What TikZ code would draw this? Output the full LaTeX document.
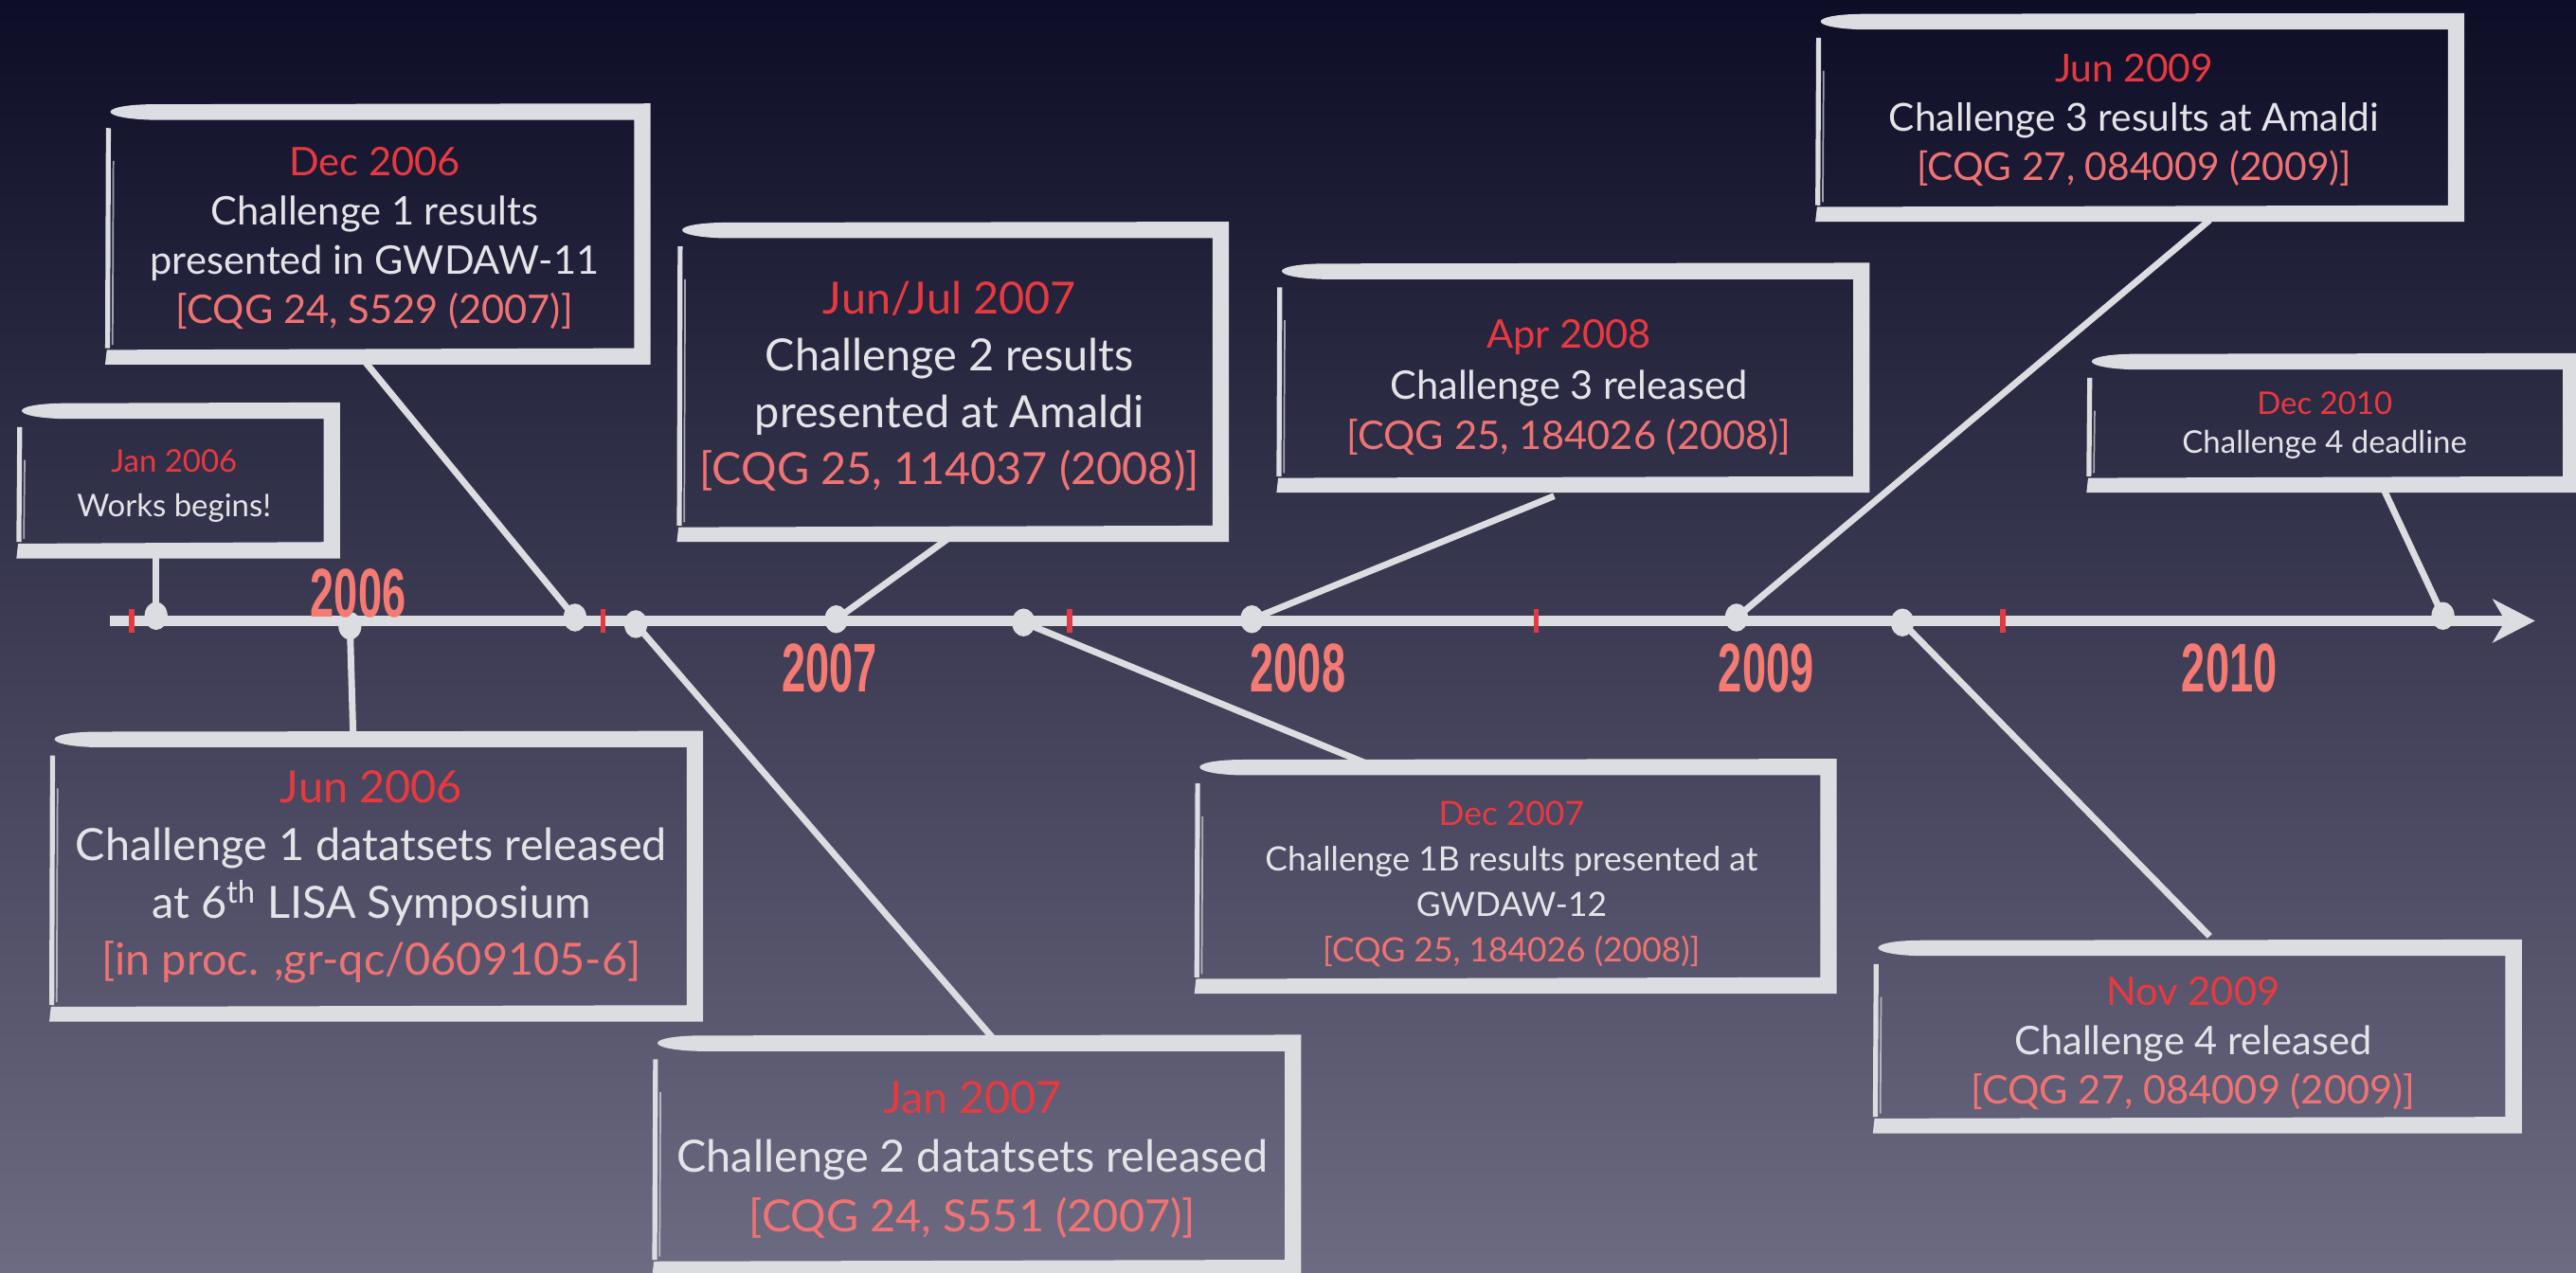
\documentclass[tikz,border=0pt]{standalone}
\usepackage{fontspec}
\setmainfont{Lato}
\newfontfamily\yearfont{Liberation Sans}
\usetikzlibrary{shapes.geometric}
\definecolor{bgtop}{HTML}{0D0D27}
\definecolor{bgmid}{HTML}{31315A}
\definecolor{bgbot}{HTML}{6D6B82}
\definecolor{linecol}{HTML}{DCDDE0}
\definecolor{datecol}{HTML}{E8393F}
\definecolor{bodycol}{HTML}{E4E4E8}
\definecolor{citecol}{HTML}{F07272}
\definecolor{yearcol}{HTML}{F47A72}
\definecolor{tickcol}{HTML}{E23A45}
\newcommand\datel[1]{\textcolor{datecol}{#1}}
\newcommand\citel[1]{\textcolor{citecol}{#1}}
\def\bt{10}
% x1 y1 x2 y2 (y grows downward)
\newcommand\sketchframe[4]{%
  \fill[linecol] (#3,#2) -- (#1+30,#2+0.5)
     .. controls (#1-3,#2+1) and (#1-3,#2+\bt-1) .. (#1+30,#2+\bt)
     -- (#3-\bt,#2+\bt) -- (#3-\bt,#4-\bt) -- (#1+3,#4-\bt+1)
     -- (#1+2,#4) -- (#3,#4) -- cycle;
  \draw[linecol,line width=3] (#1+4,#2+\bt+5) -- (#1+3.5,#4-\bt);
  \draw[linecol,line width=1,opacity=0.7] (#1+7,#2+\bt+25) -- (#1+6.5,#4-\bt-2);
}
\tikzset{
  conn/.style={linecol,line width=4},
  dot/.style={ellipse,fill=linecol,inner sep=0pt,minimum width=14,minimum height=17},
  txt/.style={align=center,text=bodycol,inner sep=0pt},
  year/.style={text=yearcol,inner sep=0pt,font=\yearfont\bfseries\fontsize{42}{42}\selectfont},
  tick/.style={tickcol,line width=3.2},
}
\begin{document}
\begin{tikzpicture}[x=1pt,y=-1pt]
\useasboundingbox (0,0) rectangle (1568,775);
\clip (0,0) rectangle (1568,775);
\shade[top color=bgtop,middle color=bgmid,bottom color=bgbot] (0,0) rectangle (1568,775);

% frames
\sketchframe{8}{245}{207}{340}
\sketchframe{62}{63}{396}{222}
\sketchframe{410}{135}{748}{330}
\sketchframe{775}{160}{1138}{300}
\sketchframe{1103}{8}{1500}{135}
\sketchframe{1268}{215}{1570}{300}
\sketchframe{28}{445}{428}{622}
\sketchframe{395}{630}{792}{777}
\sketchframe{725}{462}{1118}{605}
\sketchframe{1138}{572}{1535}{690}

% texts
\node[txt,font=\fontsize{19}{27}\selectfont] (t1) at (106,296)
  {\datel{Jan 2006}\\Works begins!};
\node[txt,font=\fontsize{24}{30}\selectfont] (t2) at (228,145)
  {\datel{Dec 2006}\\Challenge 1 results\\presented in GWDAW-11\\\citel{[CQG 24, S529 (2007)]}};
\node[txt,font=\fontsize{27}{34.7}\selectfont] (t3) at (578,235)
  {\datel{Jun/Jul 2007}\\Challenge 2 results\\presented at Amaldi\\\citel{[CQG 25, 114037 (2008)]}};
\node[txt,font=\fontsize{24}{31}\selectfont] (t4) at (955,236)
  {\datel{Apr 2008}\\Challenge 3 released\\\citel{[CQG 25, 184026 (2008)]}};
\node[txt,font=\fontsize{23.5}{30}\selectfont] (t5) at (1299,73)
  {\datel{Jun 2009}\\Challenge 3 results at Amaldi\\\citel{[CQG 27, 084009 (2009)]}};
\node[txt,font=\fontsize{19}{24}\selectfont] (t6) at (1415,259)
  {\datel{Dec 2010}\\Challenge 4 deadline};
\node[txt,font=\fontsize{27}{35}\selectfont] (t7) at (226,534)
  {\datel{Jun 2006}\\Challenge 1 datatsets released\\at 6\textsuperscript{th} LISA Symposium\\\citel{[in proc. ,gr-qc/0609105-6]}};
\node[txt,font=\fontsize{27}{36}\selectfont] (t8) at (592,706)
  {\datel{Jan 2007}\\Challenge 2 datatsets released\\\citel{[CQG 24, S551 (2007)]}};
\node[txt,font=\fontsize{20.4}{27.7}\selectfont] (t9) at (920,538)
  {\datel{Dec 2007}\\Challenge 1B results presented at\\GWDAW-12\\\citel{[CQG 25, 184026 (2008)]}};
\node[txt,font=\fontsize{24}{30}\selectfont] (t10) at (1335,635)
  {\datel{Nov 2009}\\Challenge 4 released\\\citel{[CQG 27, 084009 (2009)]}};

% timeline
\coordinate (tlstart) at (67,378);
\coordinate (tlend) at (1525,378);
\draw[linecol,line width=6.3] (tlstart) -- (tlend);
\fill[linecol] (1543,378) -- (1517,364.5) -- (1525,378) -- (1517,391.5) -- cycle;

% ticks
\foreach \tx in {80,367,651,935,1219}
  \draw[tick] (\tx,371) -- (\tx,385);

% connector ends on frames
\coordinate (c1) at (95,338);
\coordinate (c2) at (222,220);
\coordinate (c3) at (577,328);
\coordinate (c4) at (946,302);
\coordinate (c5) at (1345,134);
\coordinate (c6) at (1451,298);
\coordinate (c7) at (215,449);
\coordinate (c8) at (606,634);
\coordinate (c9) at (837,467);
\coordinate (c10) at (1345,570);

% dots
\node[dot] (d1) at (95,375) {};
\node[dot] (d2) at (350,376) {};
\node[dot] (d3) at (509,377) {};
\node[dot] (d4) at (762,377) {};
\node[dot] (d5) at (1057,376) {};
\node[dot] (d6) at (1487,375) {};
\node[dot] (d7) at (213,381) {};
\node[dot] (d8) at (387,380) {};
\node[dot] (d9) at (623,379) {};
\node[dot] (d10) at (1158,379) {};

\foreach \i in {1,...,10}
  \draw[conn] (d\i.center) -- (c\i);

% years
\node[year] (y2006) at (218,361) {\scalebox{0.62}[1]{2006}};
\node[year] (y2007) at (505,407) {\scalebox{0.62}[1]{2007}};
\node[year] (y2008) at (790,407) {\scalebox{0.62}[1]{2008}};
\node[year] (y2009) at (1075,407) {\scalebox{0.62}[1]{2009}};
\node[year] (y2010) at (1357,407) {\scalebox{0.62}[1]{2010}};
\end{tikzpicture}
\end{document}
